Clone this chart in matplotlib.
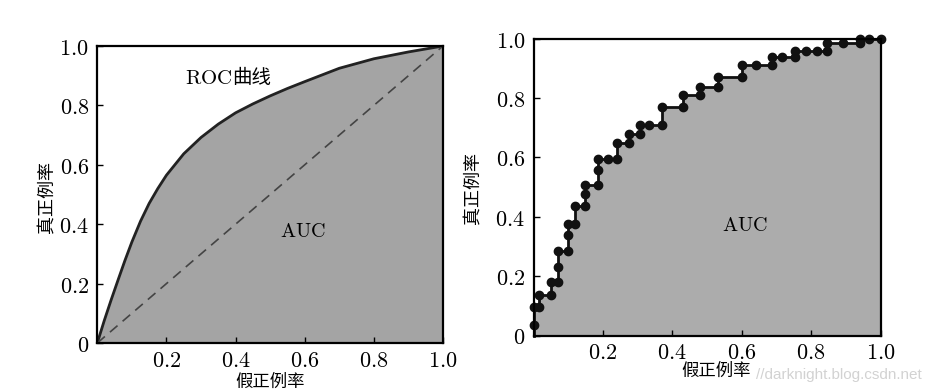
import matplotlib
matplotlib.use("Agg")
import matplotlib.pyplot as plt

plt.rcParams['font.family'] = ['Noto Sans CJK SC', 'DejaVu Sans']
plt.rcParams['mathtext.fontset'] = 'cm'

# ---- data ----
# left: smooth ROC curve
roc_x = [0, 0.02, 0.04, 0.06, 0.08, 0.10, 0.125, 0.15, 0.175, 0.2, 0.25,
         0.3, 0.35, 0.4, 0.45, 0.5, 0.55, 0.6, 0.7, 0.8, 0.9, 1.0]
roc_y = [0, 0.075, 0.145, 0.212, 0.278, 0.34, 0.41, 0.47, 0.52, 0.565,
         0.637, 0.692, 0.737, 0.775, 0.805, 0.832, 0.857, 0.88, 0.925,
         0.957, 0.98, 1.0]
diag = [0, 1]

# right: empirical (step) ROC curve points
step_x = [0, 0, 0, 0.015, 0.015, 0.049, 0.049, 0.072, 0.072, 0.072, 0.099,
          0.099, 0.099, 0.121, 0.121, 0.148, 0.148, 0.148, 0.187, 0.187,
          0.187, 0.214, 0.242, 0.242, 0.275, 0.275, 0.306, 0.306, 0.332,
          0.371, 0.371, 0.43, 0.43, 0.481, 0.481, 0.531, 0.531, 0.602,
          0.602, 0.642, 0.686, 0.686, 0.715, 0.755, 0.755, 0.786, 0.817,
          0.846, 0.846, 0.892, 0.94, 0.94, 0.968, 1.0]
step_y = [0, 0.034, 0.095, 0.095, 0.138, 0.138, 0.18, 0.18, 0.23, 0.286,
          0.286, 0.337, 0.376, 0.376, 0.435, 0.435, 0.475, 0.506, 0.506,
          0.556, 0.595, 0.595, 0.595, 0.649, 0.649, 0.679, 0.679, 0.71,
          0.71, 0.71, 0.771, 0.771, 0.811, 0.811, 0.838, 0.838, 0.872,
          0.872, 0.911, 0.911, 0.911, 0.937, 0.937, 0.937, 0.957, 0.957,
          0.957, 0.957, 0.985, 0.985, 0.985, 1.0, 1.0, 1.0]

xticks = [0.2, 0.4, 0.6, 0.8, 1.0]
xtick_labels = ['0.2', '0.4', '0.6', '0.8', '1.0']
yticks = [0, 0.2, 0.4, 0.6, 0.8, 1.0]
ytick_labels = ['0', '0.2', '0.4', '0.6', '0.8', '1.0']
xlabel = '假正例率'
ylabel = '真正例率'

W, H = 931, 392
fig = plt.figure(figsize=(W / 100, H / 100), dpi=100)
fig.patch.set_facecolor('white')

axL = fig.add_axes([97.3 / W, 1 - 343 / H, 345.7 / W, 297 / H])
axR = fig.add_axes([533.5 / W, 1 - 335.5 / H, 347 / W, 297 / H])


def style(ax):
    ax.set_xlim(0, 1)
    ax.set_ylim(0, 1)
    for s in ax.spines.values():
        s.set_linewidth(1.6)
        s.set_color('black')
    ax.set_xticks(xticks)
    ax.set_xticklabels(['$' + t + '$' for t in xtick_labels])
    ax.set_yticks(yticks)
    ax.set_yticklabels(['$' + t + '$' for t in ytick_labels])
    ax.tick_params(direction='in', length=4, width=1, labelsize=16,
                   colors='black')
    ax.tick_params(axis='x', pad=4)
    ax.tick_params(axis='y', pad=6)
    ax.set_xlabel(xlabel, fontsize=12.5)
    ax.set_ylabel(ylabel, fontsize=13)


# left panel
axL.fill_between(roc_x, roc_y, 0, color='#a4a4a4', lw=0)
axL.plot(roc_x, roc_y, color='#222222', lw=2.0, solid_capstyle='round')
axL.plot(diag, diag, color='#444444', lw=1.2, dashes=(6, 4))
style(axL)
axL.xaxis.set_label_coords(0.5, -0.1)
axL.yaxis.set_label_coords(-0.117, 0.49)
axL.text(0.39, 0.893, r'$\mathrm{ROC}$', fontsize=15, ha='right',
         va='center')
axL.text(0.39, 0.893, '曲线', fontsize=14, ha='left', va='center')
axL.text(0.594, 0.374, r'$\mathrm{AUC}$', fontsize=14.5, ha='center',
         va='center')

# right panel
axR.fill_between(step_x, step_y, 0, color='#acacac', lw=0)
axR.plot(step_x, step_y, color='#111111', lw=2.0, marker='o', ms=6,
         markevery=list(range(1, len(step_x))), clip_on=False)
style(axR)
axR.xaxis.set_label_coords(0.525, -0.089)
axR.yaxis.set_label_coords(-0.148, 0.495)
axR.text(0.608, 0.37, r'$\mathrm{AUC}$', fontsize=14.5, ha='center',
         va='center')

fig.text(922 / W, 1 - 375 / H, '//darknight.blog.csdn.net',
         fontsize=11, color='#d2d2d2', ha='right', va='center',
         family=['Liberation Sans', 'DejaVu Sans'])

fig.savefig('out.png', dpi=100)
